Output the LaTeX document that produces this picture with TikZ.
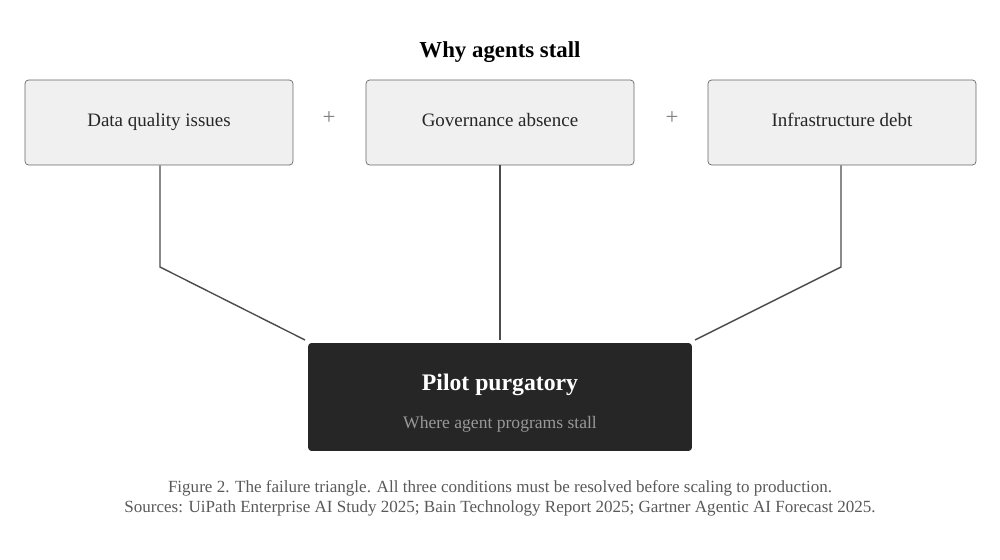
\documentclass[tikz,border=0pt]{standalone}
\usepackage{fontspec}
\setmainfont{Liberation Serif}
\tikzstyle{cond}=[rectangle,rounded corners=2pt,draw=black!60,fill=black!6,minimum width=5.36cm,minimum height=1.7cm,text height=1.5ex,text depth=.4ex,font=\fontsize{10.8}{12}\selectfont,text=black!85]
\tikzstyle{sink}=[rectangle,rounded corners=2pt,fill=black!85,minimum width=7.68cm,minimum height=2.16cm]
\tikzstyle{wire}=[draw=black!70,thick]

\begin{document}
\begin{tikzpicture}[x=0.02cm,y=-0.02cm]
\useasboundingbox (0,0) rectangle (1000,560);
\node[font=\fontsize{13}{14}\selectfont\bfseries] (title) at (500,52) {Why agents stall};
\node[cond] (data) at (159,122.5) {Data quality issues};
\node[cond] (gov) at (500,122.5) {Governance absence};
\node[cond] (infra) at (842,122.5) {Infrastructure debt};
\node[text=black!50,font=\fontsize{13}{14}\selectfont] (plusa) at (329,118) {+};
\node[text=black!50,font=\fontsize{13}{14}\selectfont] (plusb) at (672,118) {+};
\node[sink] (pilot) at (500,397) {};
\node[text=white,font=\fontsize{13.5}{14}\selectfont\bfseries] (ptitle) at (500,385) {Pilot purgatory};
\node[text=black!40,font=\fontsize{10}{12}\selectfont] (psub) at (500,424) {Where agent programs stall};
\coordinate (bendl) at (160,267);
\coordinate (bendr) at (841,267);
\coordinate (inl) at (305,340);
\coordinate (inr) at (695,340);
\draw[wire] (data.south -| bendl) -- (bendl) -- (inl);
\draw[wire] (gov.south) -- (gov.south |- inl);
\draw[wire] (infra.south -| bendr) -- (bendr) -- (inr);
\node[text=black!65,font=\fontsize{9.7}{11.3}\selectfont,align=center] (cap) at (500,498) {Figure 2. The failure triangle. All three conditions must be resolved before scaling to production.\\Sources: UiPath Enterprise AI Study 2025; Bain Technology Report 2025; Gartner Agentic AI Forecast 2025.};
\end{tikzpicture}
\end{document}
